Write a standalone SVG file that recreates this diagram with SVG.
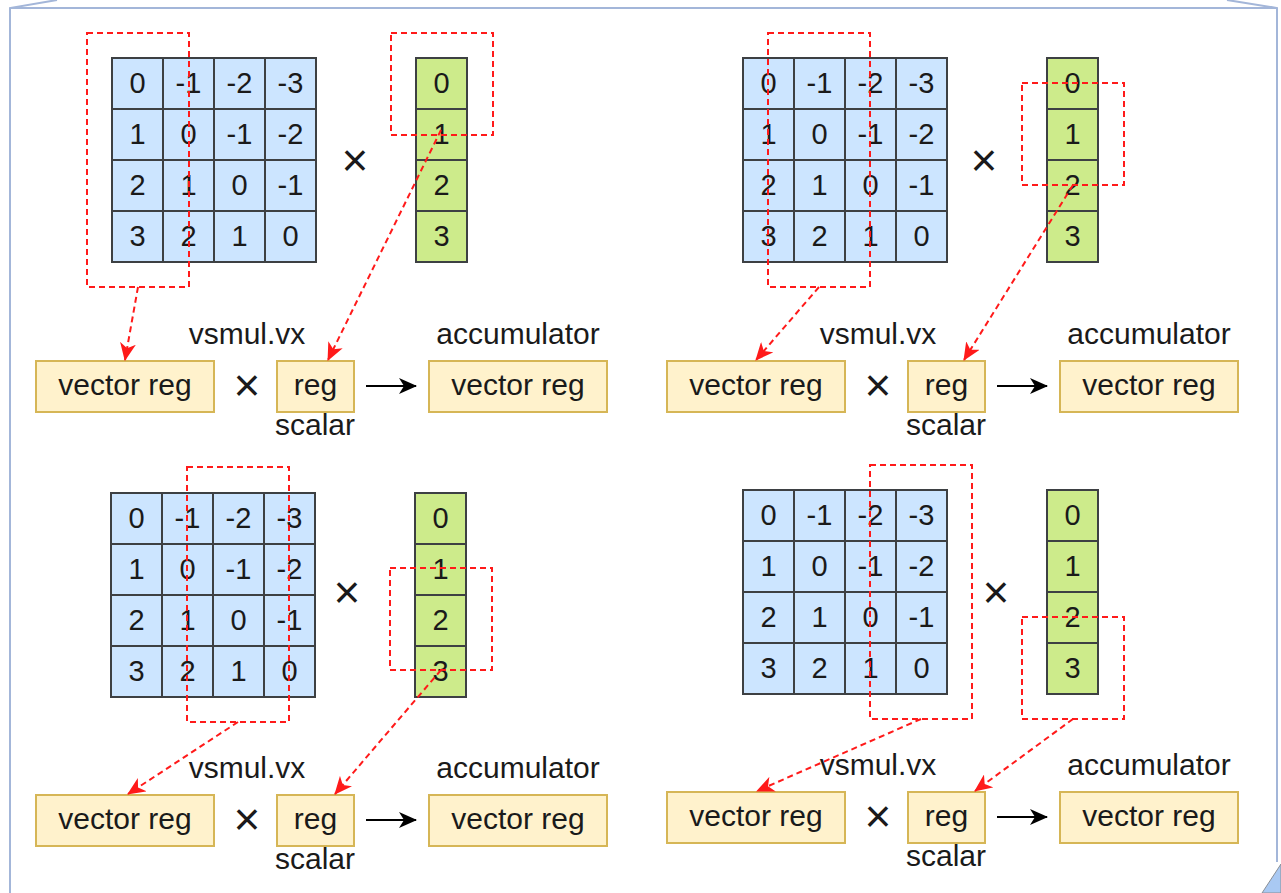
<svg xmlns="http://www.w3.org/2000/svg" width="1281" height="893" viewBox="0 0 1281 893">
<defs>
<style>
text{font-family:"Liberation Sans",Arial,sans-serif;fill:#1a1a1a;text-anchor:middle}
.m{fill:#cce5ff;stroke:#3d4043;stroke-width:2}
.v{fill:#cdeb8b;stroke:#3d4043;stroke-width:2}
.c{font-size:29px}
.b{fill:#fff2cc;stroke:#d6b656;stroke-width:2}
.l{font-size:30px}
.x{font-size:46px}
.h{fill:none;stroke:#ff1a1a;stroke-width:2;stroke-dasharray:6 4}
.e{fill:none;stroke:#ff1a1a;stroke-width:2;stroke-dasharray:6 4}
.k{fill:none;stroke:#000;stroke-width:2}
.f{fill:none;stroke:#a3b6d9;stroke-width:2}
</style>
<marker id="ra" viewBox="0 0 18 16" refX="17" refY="8" markerWidth="18" markerHeight="16" markerUnits="userSpaceOnUse" orient="auto"><path d="M0,0 L18,8 L0,16 L5,8 Z" fill="#ff1a1a"/></marker>
<marker id="ka" viewBox="0 0 18 16" refX="17" refY="8" markerWidth="18" markerHeight="16" markerUnits="userSpaceOnUse" orient="auto"><path d="M0,0 L18,8 L0,16 L5,8 Z" fill="#000"/></marker>
<g id="mat">
<rect class="m" x="0" y="0" width="51" height="51"/><rect class="m" x="51" y="0" width="51" height="51"/><rect class="m" x="102" y="0" width="51" height="51"/><rect class="m" x="153" y="0" width="51" height="51"/>
<rect class="m" x="0" y="51" width="51" height="51"/><rect class="m" x="51" y="51" width="51" height="51"/><rect class="m" x="102" y="51" width="51" height="51"/><rect class="m" x="153" y="51" width="51" height="51"/>
<rect class="m" x="0" y="102" width="51" height="51"/><rect class="m" x="51" y="102" width="51" height="51"/><rect class="m" x="102" y="102" width="51" height="51"/><rect class="m" x="153" y="102" width="51" height="51"/>
<rect class="m" x="0" y="153" width="51" height="51"/><rect class="m" x="51" y="153" width="51" height="51"/><rect class="m" x="102" y="153" width="51" height="51"/><rect class="m" x="153" y="153" width="51" height="51"/>
<text class="c" x="25.5" y="35">0</text><text class="c" x="76.5" y="35">-1</text><text class="c" x="127.5" y="35">-2</text><text class="c" x="178.5" y="35">-3</text>
<text class="c" x="25.5" y="86">1</text><text class="c" x="76.5" y="86">0</text><text class="c" x="127.5" y="86">-1</text><text class="c" x="178.5" y="86">-2</text>
<text class="c" x="25.5" y="137">2</text><text class="c" x="76.5" y="137">1</text><text class="c" x="127.5" y="137">0</text><text class="c" x="178.5" y="137">-1</text>
<text class="c" x="25.5" y="188">3</text><text class="c" x="76.5" y="188">2</text><text class="c" x="127.5" y="188">1</text><text class="c" x="178.5" y="188">0</text>
</g>
<g id="vec">
<rect class="v" x="0" y="0" width="51" height="51"/><rect class="v" x="0" y="51" width="51" height="51"/><rect class="v" x="0" y="102" width="51" height="51"/><rect class="v" x="0" y="153" width="51" height="51"/>
<text class="c" x="25.5" y="35">0</text><text class="c" x="25.5" y="86">1</text><text class="c" x="25.5" y="137">2</text><text class="c" x="25.5" y="188">3</text>
</g>
<g id="row">
<rect class="b" x="0" y="0" width="178" height="51"/><text class="l" x="89" y="34">vector reg</text>
<text class="x" x="211" y="40">×</text>
<rect class="b" x="241" y="0" width="77" height="51"/><text class="l" x="279.5" y="34">reg</text>
<rect class="b" x="393" y="0" width="178" height="51"/><text class="l" x="482" y="34">vector reg</text>
<text class="l" x="211" y="-17">vsmul.vx</text>
<text class="l" x="482" y="-17">accumulator</text>
<text class="l" x="279" y="74">scalar</text>
</g>
</defs>
<rect width="1281" height="893" fill="#fff"/>
<g id="frame">
<polyline class="f" points="57,0 10,8 10,893"/>
<line class="f" x1="10" y1="8" x2="1277" y2="8"/>
<polyline class="f" points="1227,0 1277,8 1277,862"/>
<polygon points="1281,864 1262,893 1281,893" fill="#a9c9f3" stroke="#8a8f96" stroke-width="1"/>
</g>
<g id="q1">
<use href="#mat" x="112" y="58"/>
<use href="#vec" x="416" y="58"/>
<text class="x" x="355" y="176">×</text>
<use href="#row" x="36" y="361"/>
<rect class="h" x="87" y="33" width="102" height="254"/>
<rect class="h" x="391" y="33" width="102" height="102"/>
</g>
<g id="q2">
<use href="#mat" x="743" y="58"/>
<use href="#vec" x="1047" y="58"/>
<text class="x" x="984" y="176">×</text>
<use href="#row" x="667" y="361"/>
<rect class="h" x="768" y="33" width="102" height="254"/>
<rect class="h" x="1022" y="83" width="102" height="102"/>
</g>
<g id="q3">
<use href="#mat" x="111" y="493"/>
<use href="#vec" x="415" y="493"/>
<text class="x" x="347" y="608">×</text>
<use href="#row" x="36" y="795"/>
<rect class="h" x="187" y="467" width="102" height="255"/>
<rect class="h" x="390" y="568" width="102" height="102"/>
</g>
<g id="q4">
<use href="#mat" x="743" y="490"/>
<use href="#vec" x="1047" y="490"/>
<text class="x" x="996" y="608">×</text>
<use href="#row" x="667" y="792"/>
<rect class="h" x="870" y="465" width="102" height="254"/>
<rect class="h" x="1022" y="617" width="102" height="102"/>
</g>
<g id="connectors">
<line class="e" x1="138" y1="287" x2="125" y2="360" marker-end="url(#ra)"/>
<line class="e" x1="441" y1="130" x2="328" y2="360" marker-end="url(#ra)"/>
<line class="k" x1="366" y1="386" x2="416" y2="386" marker-end="url(#ka)"/>
<line class="e" x1="819" y1="287" x2="756" y2="360" marker-end="url(#ra)"/>
<line class="e" x1="1073" y1="185" x2="964" y2="360" marker-end="url(#ra)"/>
<line class="k" x1="997" y1="386" x2="1047" y2="386" marker-end="url(#ka)"/>
<line class="e" x1="238" y1="722" x2="128" y2="794" marker-end="url(#ra)"/>
<line class="e" x1="441" y1="670" x2="335" y2="794" marker-end="url(#ra)"/>
<line class="k" x1="366" y1="820" x2="416" y2="820" marker-end="url(#ka)"/>
<line class="e" x1="921" y1="719" x2="757" y2="791" marker-end="url(#ra)"/>
<line class="e" x1="1073" y1="719" x2="975" y2="791" marker-end="url(#ra)"/>
<line class="k" x1="997" y1="817" x2="1047" y2="817" marker-end="url(#ka)"/>
</g>
</svg>
